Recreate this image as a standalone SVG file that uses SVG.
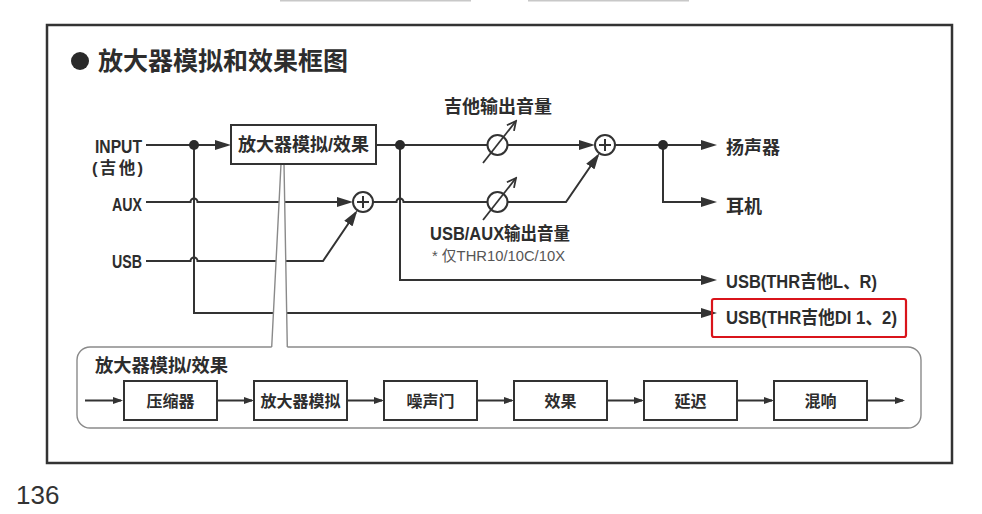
<svg xmlns="http://www.w3.org/2000/svg" width="982" height="514" viewBox="0 0 982 514">
<style>
.t{font-family:"Liberation Sans","Noto Sans CJK SC",sans-serif;font-weight:bold;fill:#2d2d2d;}
.r{font-family:"Liberation Sans","Noto Sans CJK SC",sans-serif;font-weight:normal;fill:#555;}
.ln{fill:none;stroke:#333;stroke-width:2;}
.lns{fill:none;stroke:#333;stroke-width:1.8;}
.box{fill:#fff;stroke:#333;stroke-width:2;}
.gray{fill:none;stroke:#8a8a8a;stroke-width:1.4;}
.dot{fill:#2a2a2a;}
.circ{fill:#fff;stroke:#333;stroke-width:2;}
</style>
<defs>
<marker id="ah" viewBox="0 0 16 10" refX="13" refY="5" markerWidth="16" markerHeight="10" markerUnits="userSpaceOnUse" orient="auto"><path d="M0,0 L16,5 L0,10 Z" fill="#333"/></marker>
<marker id="as" viewBox="0 0 10 7" refX="8" refY="3.5" markerWidth="10" markerHeight="7" markerUnits="userSpaceOnUse" orient="auto"><path d="M0,0 L10,3.5 L0,7 Z" fill="#333"/></marker>
<marker id="av" viewBox="-11 -6 13 12" refX="0" refY="0" markerWidth="13" markerHeight="12" markerUnits="userSpaceOnUse" orient="auto"><path d="M-9,-4.5 L0,0 L-9,4.5" fill="none" stroke="#333" stroke-width="1.8"/></marker>
</defs>
<rect width="982" height="514" fill="#fff"/>
<rect x="280" y="0" width="191" height="1.5" fill="#c8c8c8"/>
<rect x="528" y="0" width="161" height="1.5" fill="#c8c8c8"/>
<rect id="frame" x="47" y="25" width="905" height="438" fill="none" stroke="#333" stroke-width="2.5"/>
<g id="title">
<circle cx="80" cy="61" r="9" fill="#2a2a2a"/>
<text class="t" x="98" y="69.5" font-size="25">放大器模拟和效果框图</text>
</g>
<g id="connectors">
<path class="ln" d="M146,145 L228,145" marker-end="url(#ah)"/>
<path class="ln" d="M376,145 L487.5,145"/>
<path class="ln" d="M507.5,145 L592,145" marker-end="url(#ah)"/>
<path class="ln" d="M146,202 L190.5,202 A3.5,3.5 0 0 1 197.5,202 L350,202" marker-end="url(#ah)"/>
<path class="ln" d="M373,202 L396.5,202 A3.5,3.5 0 0 1 403.5,202 L487.5,202"/>
<path class="ln" d="M507.5,202 L566,202 L597.7,155.8" marker-end="url(#ah)"/>
<path class="ln" d="M146,261 L190.5,261 A3.5,3.5 0 0 1 197.5,261 L323,261 L355.7,212.8" marker-end="url(#ah)"/>
<path class="ln" d="M615,145 L714,145" marker-end="url(#ah)"/>
<path class="ln" d="M663,145 L663,202 L714,202" marker-end="url(#ah)"/>
<path class="ln" d="M400,145 L400,280 L714,280" marker-end="url(#ah)"/>
<path class="ln" d="M194,145 L194,313 L714,313" marker-end="url(#ah)"/>
<circle class="dot" cx="194" cy="145" r="5"/>
<circle class="dot" cx="400" cy="145" r="5"/>
<circle class="dot" cx="663" cy="145" r="5"/>
<polygon points="281,164 284,164 287.3,347 271.7,347" fill="#fff"/>
<path class="gray" d="M281,164 L271.7,347 M284,164 L287.3,347"/>
<path class="lns" d="M85,400.5 L121,400.5" marker-end="url(#as)"/>
<path class="lns" d="M217,400.5 L252,400.5" marker-end="url(#as)"/>
<path class="lns" d="M347,400.5 L382,400.5" marker-end="url(#as)"/>
<path class="lns" d="M477,400.5 L512,400.5" marker-end="url(#as)"/>
<path class="lns" d="M607,400.5 L642,400.5" marker-end="url(#as)"/>
<path class="lns" d="M737,400.5 L772,400.5" marker-end="url(#as)"/>
<path class="lns" d="M868,400.5 L903,400.5" marker-end="url(#as)"/>
</g>
<g id="inputs">
<text class="t" x="142" y="153" font-size="18" text-anchor="end" textLength="47" lengthAdjust="spacingAndGlyphs">INPUT</text>
<text class="t" x="143" y="174" font-size="16.5" text-anchor="end" textLength="51" lengthAdjust="spacing">(吉他)</text>
<text class="t" x="142" y="211" font-size="18" text-anchor="end" textLength="30" lengthAdjust="spacingAndGlyphs">AUX</text>
<text class="t" x="142" y="268" font-size="18" text-anchor="end" textLength="30" lengthAdjust="spacingAndGlyphs">USB</text>
</g>
<g id="amp-box">
<rect class="box" x="231" y="125" width="145" height="39"/>
<text class="t" x="303.5" y="151.3" font-size="18" text-anchor="middle">放大器模拟/效果</text>
</g>
<g id="mix1">
<circle class="circ" cx="363" cy="202" r="10"/>
<path class="ln" d="M357,202 L369,202 M363,196 L363,208"/>
</g>
<g id="mix2">
<circle class="circ" cx="605" cy="145" r="10"/>
<path class="ln" d="M599,145 L611,145 M605,139 L605,151"/>
</g>
<g id="guitar-vol">
<circle class="circ" cx="497.5" cy="145" r="10"/>
<path d="M483,163 L516,121" fill="none" stroke="#333" stroke-width="1.8" marker-end="url(#av)"/>
<text class="t" x="498" y="113" font-size="18" text-anchor="middle">吉他输出音量</text>
</g>
<g id="usbaux-vol">
<circle class="circ" cx="497.5" cy="202" r="10"/>
<path d="M483,220 L516,178" fill="none" stroke="#333" stroke-width="1.8" marker-end="url(#av)"/>
<text class="t" x="430" y="240" font-size="18" textLength="140" lengthAdjust="spacingAndGlyphs">USB/AUX输出音量</text>
<text class="r" x="432" y="260.5" font-size="15" textLength="133" lengthAdjust="spacingAndGlyphs">* 仅THR10/10C/10X</text>
</g>
<g id="outputs">
<text class="t" x="726" y="154.4" font-size="18">扬声器</text>
<text class="t" x="726" y="212.8" font-size="18">耳机</text>
<text class="t" x="726" y="288" font-size="18" textLength="151" lengthAdjust="spacingAndGlyphs">USB(THR吉他L、R)</text>
<text class="t" x="726" y="324" font-size="18" textLength="171" lengthAdjust="spacingAndGlyphs">USB(THR吉他DI 1、2)</text>
<rect x="712" y="299" width="194" height="38" rx="2" fill="none" stroke="#d9141b" stroke-width="2.2"/>
</g>
<g id="effects-group">
<path class="gray" d="M271.7,347 L90,347 A13,13 0 0 0 77,360 L77,415 A13,13 0 0 0 90,428 L908,428 A13,13 0 0 0 921,415 L921,360 A13,13 0 0 0 908,347 L287.3,347"/>
<text class="t" x="95" y="371.8" font-size="18" textLength="133" lengthAdjust="spacingAndGlyphs">放大器模拟/效果</text>
</g>
<g id="compressor"><rect class="box" x="124" y="381" width="93" height="39"/><text class="t" x="170.5" y="407" font-size="16" text-anchor="middle">压缩器</text></g>
<g id="amp-sim"><rect class="box" x="254" y="381" width="93" height="39"/><text class="t" x="300.5" y="407" font-size="16" text-anchor="middle">放大器模拟</text></g>
<g id="noise-gate"><rect class="box" x="384" y="381" width="93" height="39"/><text class="t" x="430.5" y="407" font-size="16" text-anchor="middle">噪声门</text></g>
<g id="effect"><rect class="box" x="514" y="381" width="93" height="39"/><text class="t" x="560.5" y="407" font-size="16" text-anchor="middle">效果</text></g>
<g id="delay"><rect class="box" x="644" y="381" width="93" height="39"/><text class="t" x="690.5" y="407" font-size="16" text-anchor="middle">延迟</text></g>
<g id="reverb"><rect class="box" x="774" y="381" width="93" height="39"/><text class="t" x="820.5" y="407" font-size="16" text-anchor="middle">混响</text></g>
<text class="r" x="16" y="504" font-size="26" style="fill:#333">136</text>
</svg>
